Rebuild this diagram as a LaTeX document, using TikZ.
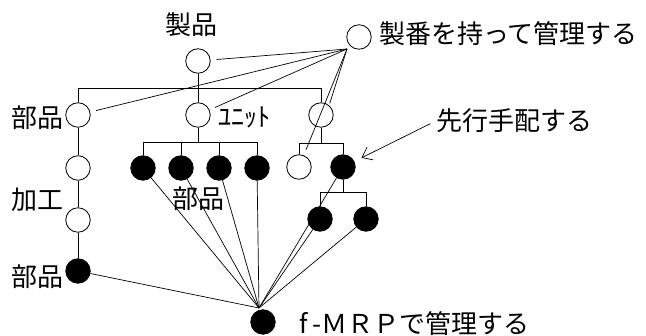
\documentclass[tikz,border=0pt]{standalone}
\usepackage{fontspec}
\newfontfamily\jp{Noto Sans CJK JP}
\usetikzlibrary{arrows.meta}
\tikzset{
  oc/.style={circle,draw,line width=0.8pt,minimum size=24.5pt,inner sep=0pt},
  fc/.style={oc,fill=black},
  lbl/.style={font=\jp\fontsize{26}{26}\selectfont,inner sep=0pt},
  tree/.style={line width=0.8pt},
  ray/.style={line width=0.7pt},
  topray/.style={ray,shorten >=6pt}
}
\begin{document}
\begin{tikzpicture}[x=1pt,y=-1pt]
\fill[white] (0,0) rectangle (646,336);
\useasboundingbox (0,0) rectangle (646,336);
% nodes
\node[oc] (p) at (198,61) {};
\node[lbl] (tp) at (191,25) {製品};
\node[oc] (tcirc) at (359,37) {};
\node[lbl,anchor=west] (tt) at (379,34) {製番を持って管理する};
\node[oc] (l1) at (78,115) {};
\node[oc] (u) at (198,115) {};
\node[oc] (r1) at (321,115) {};
\node[lbl] (tl1) at (38,118) {部品};
\node[lbl,anchor=west] (tu) at (218,117) {ﾕﾆｯﾄ};
\node[oc] (l2) at (78,168) {};
\node[oc] (l3) at (78,220) {};
\node[fc] (l4) at (78,271) {};
\node[lbl] (tl2) at (38,200) {加工};
\node[lbl] (tl4) at (38,277) {部品};
\node[fc] (c1) at (143,168) {};
\node[fc] (c2) at (181,168) {};
\node[fc] (c3) at (219,168) {};
\node[fc] (c4) at (257,168) {};
\node[lbl] (tc) at (198,199) {部品};
\node[oc] (o1) at (299,167) {};
\node[fc] (f2) at (343,167) {};
\node[fc] (g1) at (320,219) {};
\node[fc] (g2) at (366,219) {};
\node[lbl] (ts) at (514,121) {先行手配する};
\node[fc] (bcirc) at (263,322) {};
\node[lbl,anchor=west] (tb) at (299,324) {f\hspace{5pt}-ＭＲＰで管理する};
% bars
\coordinate (b1) at (198,88);
\coordinate (b2) at (198,142);
\coordinate (b3) at (321,143);
\coordinate (b4) at (343,192);
\draw[tree] (p.south) -- (b1);
\draw[tree] (l1.north) -- (l1.north |- b1) -| (r1.north);
\draw[tree] (u.north) -- (u.north |- b1);
\draw[tree] (u.south) -- (b2);
\draw[tree] (c1.north) -- (c1.north |- b2) -| (c4.north);
\draw[tree] (c2.north) -- (c2.north |- b2);
\draw[tree] (c3.north) -- (c3.north |- b2);
\draw[tree] (r1.south) -- (b3);
\draw[tree] (o1.north) -- (o1.north |- b3) -| (f2.north);
\draw[tree] (f2.south) -- (b4);
\draw[tree] (g1.north) -- (g1.north |- b4) -| (g2.north);
\draw[tree] (l1) -- (l2);
\draw[tree] (l2) -- (l3);
\draw[tree] (l3) -- (l4);
% top rays
\coordinate (tcv) at (347,49);
\draw[topray] (tcv) -- (p);
\draw[topray] (tcv) -- (l1);
\draw[topray] (tcv) -- (u);
\draw[ray,shorten >=2pt] (tcv) -- (r1.50);
\draw[topray] (tcv) -- (o1);
% bottom rays
\coordinate (bcv) at (259,308);
\foreach \n in {l4,c1,c2,c3,c4,f2,g1,g2} \draw[ray] (bcv) -- (\n);
% arrow
\draw[ray,-{Straight Barb[length=9pt,width=14pt]},shorten >=8pt,shorten <=6pt] (ts.west) -- (f2);
\end{tikzpicture}
\end{document}
